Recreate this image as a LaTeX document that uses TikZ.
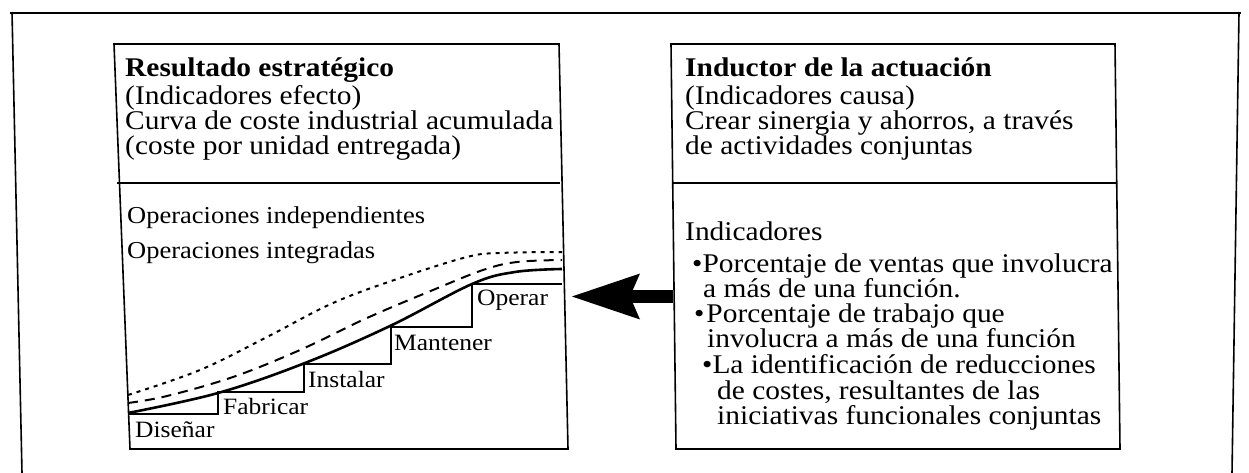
\documentclass[tikz,border=0pt]{standalone}
\usepackage{fontspec}
\setmainfont{Liberation Serif}[FakeStretch=1.09]
\usetikzlibrary{arrows.meta}
\begin{document}
\begin{tikzpicture}[x=1pt,y=-1pt,
  txt/.style={anchor=base west,inner sep=0pt,font=\fontsize{27}{25}\selectfont},
  ttl/.style={txt,font=\fontsize{27}{25}\selectfont\bfseries},
  smalltxt/.style={anchor=base west,inner sep=0pt,font=\fontsize{24.3}{23}\selectfont},
  lab/.style={anchor=base west,inner sep=0pt,font=\fontsize{23.4}{22}\selectfont},
  boxline/.style={line width=1.6pt,line join=miter},
  frameline/.style={line width=1.6pt},
  stair/.style={line width=1.3pt},
  solidcurve/.style={line width=2.6pt},
  dashcurve/.style={line width=2pt,dash pattern=on 10pt off 7pt},
  dotcurve/.style={line width=2pt,dash pattern=on 4pt off 5pt},
  bigarrow/.style={line width=13pt,-{Stealth[length=68pt,width=46pt,inset=10pt,line width=0pt]}}
]
\useasboundingbox (0,0) rectangle (1249,473);
% outer frame
\coordinate (f1) at (10,13);
\coordinate (f2) at (1241,13);
\coordinate (f3) at (12,12);
\coordinate (f4) at (22,473);
\coordinate (f5) at (1239,12);
\coordinate (f6) at (1232,473);
\draw[line width=2.6pt] (f1) -- (f2);
\draw[frameline] (f3) -- (f4);
\draw[frameline] (f5) -- (f6);
% left box
\coordinate (ltl) at (114,44);
\coordinate (ltr) at (559,44);
\coordinate (lbr) at (568,449);
\coordinate (lbl) at (130,449);
\draw[boxline] (ltl) -- (ltr) -- (lbr) -- (lbl) -- cycle;
\coordinate (ldl) at (117,183);
\coordinate (ldr) at (560,183);
\draw[boxline] (ldl) -- (ldr);
% right box
\coordinate (rtl) at (671,44);
\coordinate (rtr) at (1115,44);
\coordinate (rbr) at (1120,449);
\coordinate (rbl) at (676,449);
\draw[boxline] (rtl) -- (rtr) -- (rbr) -- (rbl) -- cycle;
\coordinate (rdl) at (672,183);
\coordinate (rdr) at (1116,183);
\draw[boxline] (rdl) -- (rdr);
% left texts
\node[ttl] (l1) at (125,77) {Resultado estratégico};
\node[txt] (l2) at (125,105) {(Indicadores efecto)};
\node[txt] (l3) at (125,130) {Curva de coste industrial acumulada};
\node[txt] (l4) at (125,155) {(coste por unidad entregada)};
\node[smalltxt] (l5) at (127,223) {Operaciones independientes};
\node[smalltxt] (l6) at (127,258) {Operaciones integradas};
% right texts
\node[ttl] (r1) at (685,77) {Inductor de la actuación};
\node[txt] (r2) at (685,105) {(Indicadores causa)};
\node[txt] (r3) at (685,130) {Crear sinergia y ahorros, a través};
\node[txt] (r4) at (685,155) {de actividades conjuntas};
\node[txt] (r5) at (685,240) {Indicadores};
\node[txt] (r6) at (692,272) {•Porcentaje de ventas que involucra};
\node[txt] (r7) at (703,297) {a más de una función.};
\node[txt] (r8) at (694,322) {•\hspace{2pt}Porcentaje de trabajo que};
\node[txt] (r9) at (707,347) {involucra a más de una función};
\node[txt] (r10) at (702,373) {•La identificación de reducciones};
\node[txt] (r11) at (717,399) {de costes, resultantes de las};
\node[txt] (r12) at (717,424) {iniciativas funcionales conjuntas};
% staircase
\coordinate (s0) at (128,414);
\coordinate (s1) at (218,414);
\coordinate (s2) at (218,392);
\coordinate (s3) at (304,392);
\coordinate (s4) at (304,364);
\coordinate (s5) at (391,364);
\coordinate (s6) at (391,327);
\coordinate (s7) at (472,327);
\coordinate (s8) at (472,284);
\coordinate (s9) at (562,284);
\draw[stair] (s0) -- (s1) -- (s2) -- (s3) -- (s4) -- (s5) -- (s6) -- (s7) -- (s8) -- (s9);
\node[lab] (d1) at (135,437) {Diseñar};
\node[lab] (d2) at (223,414) {Fabricar};
\node[lab] (d3) at (308,387) {Instalar};
\node[lab] (d4) at (394,350) {Mantener};
\node[lab] (d5) at (477,305) {Operar};
% curves
\draw[solidcurve] plot[smooth,tension=0.6] coordinates {(128,413) (218,393) (305,363) (390,326) (472,284) (515,272) (562,269)};
\draw[dashcurve] plot[smooth,tension=0.6] coordinates {(128,403) (167,396) (233,377) (300,350) (367,318) (433,290) (483,270) (517,262) (562,260)};
\draw[dotcurve] plot[smooth,tension=0.6] coordinates {(128,395) (200,370) (267,337) (333,303) (400,278) (467,257) (500,253) (562,252)};
% arrow
\coordinate (astart) at (673,296.5);
\coordinate (tip) at (572,296.5);
\draw[bigarrow] (astart) -- (tip);
\end{tikzpicture}
\end{document}
